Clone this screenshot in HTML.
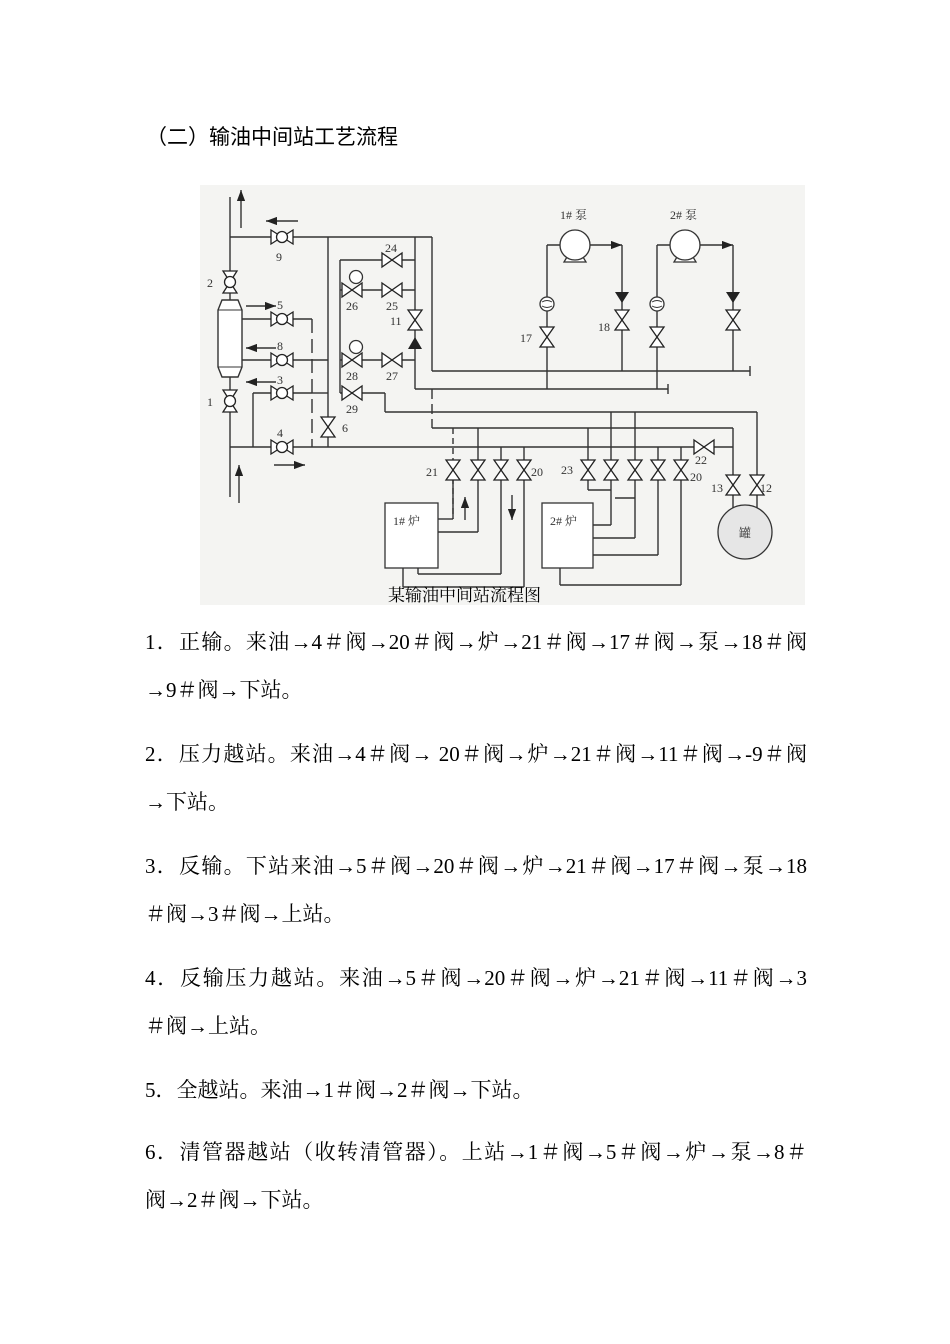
<!DOCTYPE html>
<html><head><meta charset="utf-8">
<style>
body{margin:0;background:#fff;}
#p{position:relative;width:950px;height:1344px;overflow:hidden;font-family:"Liberation Serif","Noto Serif CJK SC",serif;color:#000;}
.t{position:absolute;left:145px;font-size:21px;white-space:nowrap;line-height:24px;}
.j{width:662px;text-align:justify;text-align-last:justify;}
svg{position:absolute;left:0;top:0;}
</style></head><body><div id="p">
<div class="t" style="left:146px;top:126px;font-size:21px;font-family:'Liberation Sans','Noto Sans CJK SC',sans-serif;">（二）输油中间站工艺流程</div>

<svg width="950" height="620" viewBox="0 0 950 620">
<defs>
<g id="v"><polygon points="-10,-7 10,7 10,-7 -10,7" fill="#fff" stroke="#222" stroke-width="1.3"/></g>
<g id="b"><polygon points="-11,-7 11,7 11,-7 -11,7" fill="#fff" stroke="#222" stroke-width="1.3"/><circle r="5.5" fill="#fff" stroke="#222" stroke-width="1.3"/></g>
<g id="vv"><polygon points="-7,-10 7,10 -7,10 7,-10" fill="#fff" stroke="#222" stroke-width="1.3"/></g>
<g id="bv"><polygon points="-7,-11 7,11 -7,11 7,-11" fill="#fff" stroke="#222" stroke-width="1.3"/><circle r="5.5" fill="#fff" stroke="#222" stroke-width="1.3"/></g>
<marker id="ar" markerWidth="8" markerHeight="6" refX="8" refY="3" orient="auto"><path d="M0,0 L8,3 L0,6 z" fill="#222"/></marker>
</defs>
<rect x="200" y="185" width="605" height="420" fill="#f4f4f2"/>
<g stroke="#333" stroke-width="1.4" fill="none">
<!-- left main -->
<line x1="230" y1="197" x2="230" y2="497"/>
<line x1="230" y1="237" x2="432" y2="237"/>
<line x1="328" y1="237" x2="328" y2="447"/>
<line x1="415" y1="237" x2="415" y2="389"/>
<line x1="432" y1="237" x2="432" y2="371"/>
<line x1="432" y1="371" x2="750" y2="371"/>
<line x1="750" y1="366" x2="750" y2="376"/>
<line x1="415" y1="389" x2="668" y2="389"/>
<line x1="668" y1="384" x2="668" y2="394"/>
<!-- filter connections -->
<line x1="242" y1="319" x2="312" y2="319"/>
<line x1="312" y1="319" x2="312" y2="447" stroke-dasharray="14,6"/>
<line x1="242" y1="360" x2="328" y2="360"/>
<line x1="253" y1="393" x2="312" y2="393"/>
<line x1="253" y1="393" x2="253" y2="447"/>
<line x1="312" y1="393" x2="328" y2="393"/>
<line x1="230" y1="447" x2="733" y2="447"/>
<!-- inner loop -->
<line x1="340" y1="260" x2="340" y2="393"/>
<line x1="340" y1="260" x2="415" y2="260"/>
<line x1="340" y1="290" x2="415" y2="290"/>
<line x1="340" y1="360" x2="415" y2="360"/>
<line x1="340" y1="393" x2="385" y2="393"/>
<line x1="385" y1="393" x2="385" y2="412"/>
<line x1="385" y1="412" x2="757" y2="412"/>
<line x1="757" y1="412" x2="757" y2="512"/>
<line x1="432" y1="428" x2="733" y2="428"/>
<line x1="432" y1="389" x2="432" y2="428" stroke-dasharray="10,5"/>
<line x1="733" y1="428" x2="733" y2="512"/>
<!-- pumps -->
<line x1="547" y1="245" x2="547" y2="371"/>
<line x1="547" y1="245" x2="575" y2="245"/>
<line x1="575" y1="245" x2="622" y2="245" marker-end="url(#ar)"/>
<line x1="622" y1="245" x2="622" y2="371"/>
<line x1="657" y1="245" x2="657" y2="371"/>
<line x1="657" y1="245" x2="685" y2="245"/>
<line x1="685" y1="245" x2="733" y2="245" marker-end="url(#ar)"/>
<line x1="733" y1="245" x2="733" y2="371"/>
<line x1="547" y1="371" x2="547" y2="389"/>
<line x1="657" y1="371" x2="657" y2="389"/>
<!-- furnace valve drops -->
<line x1="453" y1="428" x2="453" y2="519" stroke-dasharray="6,4"/>
<line x1="478" y1="428" x2="478" y2="532"/>
<line x1="501" y1="447" x2="501" y2="574"/>
<line x1="524" y1="447" x2="524" y2="587"/>
<line x1="453" y1="470" x2="453" y2="519"/>
<line x1="438" y1="519" x2="453" y2="519"/>
<line x1="438" y1="532" x2="478" y2="532"/>
<line x1="418" y1="568" x2="418" y2="574"/><line x1="418" y1="574" x2="501" y2="574"/>
<line x1="403" y1="568" x2="403" y2="587"/><line x1="403" y1="587" x2="524" y2="587"/>
<line x1="588" y1="428" x2="588" y2="490"/>
<line x1="611" y1="412" x2="611" y2="525"/>
<line x1="635" y1="412" x2="635" y2="538"/>
<line x1="658" y1="447" x2="658" y2="555"/>
<line x1="681" y1="447" x2="681" y2="585"/>
<line x1="588" y1="490" x2="611" y2="490"/>
<line x1="615" y1="498" x2="635" y2="498"/>
<line x1="593" y1="525" x2="611" y2="525"/>
<line x1="593" y1="538" x2="635" y2="538"/>
<line x1="575" y1="568" x2="575" y2="555"/><line x1="575" y1="555" x2="658" y2="555"/>
<line x1="560" y1="568" x2="560" y2="585"/><line x1="560" y1="585" x2="681" y2="585"/>
<!-- arrows -->
<line x1="241" y1="228" x2="241" y2="190" marker-end="url(#ar)"/>
<line x1="239" y1="503" x2="239" y2="465" marker-end="url(#ar)"/>
<line x1="298" y1="221" x2="266" y2="221" marker-end="url(#ar)"/>
<line x1="246" y1="306" x2="276" y2="306" marker-end="url(#ar)"/>
<line x1="276" y1="348" x2="246" y2="348" marker-end="url(#ar)"/>
<line x1="276" y1="382" x2="246" y2="382" marker-end="url(#ar)"/>
<line x1="274" y1="465" x2="305" y2="465" marker-end="url(#ar)"/>
<line x1="465" y1="520" x2="465" y2="497" marker-end="url(#ar)"/>
<line x1="512" y1="495" x2="512" y2="520" marker-end="url(#ar)"/>
</g>
<!-- filter body -->
<path d="M222,300 L238,300 L242,310 L242,367 L238,377 L222,377 L218,367 L218,310 Z" fill="#fff" stroke="#333" stroke-width="1.4"/>
<line x1="218" y1="310" x2="242" y2="310" stroke="#333"/><line x1="218" y1="367" x2="242" y2="367" stroke="#333"/>
<!-- valves -->
<use href="#b" x="282" y="237"/><use href="#bv" x="230" y="282"/><use href="#bv" x="230" y="401"/>
<use href="#b" x="282" y="319"/><use href="#b" x="282" y="360"/><use href="#b" x="282" y="393"/><use href="#b" x="282" y="447"/>
<use href="#vv" x="328" y="427"/>
<use href="#v" x="392" y="260"/><use href="#v" x="392" y="290"/><use href="#v" x="392" y="360"/><use href="#v" x="352" y="393"/>
<use href="#v" x="352" y="290"/><use href="#v" x="352" y="360"/>
<circle cx="356" cy="277" r="6.5" fill="#fff" stroke="#333" stroke-width="1.3"/>
<circle cx="356" cy="347" r="6.5" fill="#fff" stroke="#333" stroke-width="1.3"/>
<use href="#vv" x="415" y="320"/>
<polygon points="408,349 422,349 415,337" fill="#222"/>
<use href="#vv" x="453" y="470"/><use href="#vv" x="478" y="470"/><use href="#vv" x="501" y="470"/><use href="#vv" x="524" y="470"/>
<use href="#vv" x="588" y="470"/><use href="#vv" x="611" y="470"/><use href="#vv" x="635" y="470"/><use href="#vv" x="658" y="470"/><use href="#vv" x="681" y="470"/>
<use href="#v" x="704" y="447"/>
<use href="#vv" x="733" y="485"/><use href="#vv" x="757" y="485"/>
<use href="#vv" x="547" y="337"/><use href="#vv" x="622" y="320"/><use href="#vv" x="657" y="337"/><use href="#vv" x="733" y="320"/>
<polygon points="615,292 629,292 622,303" fill="#222"/><polygon points="726,292 740,292 733,303" fill="#222"/>
<g fill="#fff" stroke="#333" stroke-width="1.3">
<circle cx="547" cy="304" r="7"/><circle cx="657" cy="304" r="7"/>
<polygon points="564,262 586,262 580,252 570,252"/><circle cx="575" cy="245" r="15"/>
<polygon points="674,262 696,262 690,252 680,252"/><circle cx="685" cy="245" r="15"/>
<rect x="385" y="503" width="53" height="65"/><rect x="542" y="503" width="51" height="65"/>
<circle cx="745" cy="532" r="27" fill="#e6e6e6"/>
</g>
<path d="M542,302 q5,-3 10,0 M542,306 q5,3 10,0 M652,302 q5,-3 10,0 M652,306 q5,3 10,0" stroke="#333" fill="none"/>
<g font-family="Liberation Serif,'Noto Serif CJK SC',serif" font-size="12" fill="#333">
<text x="276" y="261">9</text><text x="207" y="287">2</text><text x="207" y="406">1</text>
<text x="277" y="309">5</text><text x="277" y="350">8</text><text x="277" y="384">3</text><text x="277" y="437">4</text>
<text x="342" y="432">6</text><text x="385" y="252">24</text><text x="346" y="310">26</text><text x="386" y="310">25</text>
<text x="390" y="325">11</text><text x="346" y="380">28</text><text x="386" y="380">27</text><text x="346" y="413">29</text>
<text x="426" y="476">21</text><text x="531" y="476">20</text><text x="561" y="474">23</text><text x="690" y="481">20</text>
<text x="695" y="464">22</text><text x="711" y="492">13</text><text x="760" y="492">12</text>
<text x="520" y="342">17</text><text x="598" y="331">18</text>
<text x="560" y="219">1# 泵</text><text x="670" y="219">2# 泵</text>
<text x="393" y="525">1# 炉</text><text x="550" y="525">2# 炉</text><text x="739" y="537">罐</text>
</g>
<text x="388" y="601" font-family="Liberation Serif,'Noto Serif CJK SC',serif" font-size="17">某输油中间站流程图</text>
</svg>

<div class="t j" style="top:630px">1．正输。来油→4＃阀→20＃阀→炉→21＃阀→17＃阀→泵→18＃阀</div>
<div class="t" style="top:678px">→9＃阀→下站。</div>
<div class="t j" style="top:742px">2．压力越站。来油→4＃阀→ 20＃阀→炉→21＃阀→11＃阀→-9＃阀</div>
<div class="t" style="top:790px">→下站。</div>
<div class="t j" style="top:854px">3．反输。下站来油→5＃阀→20＃阀→炉→21＃阀→17＃阀→泵→18</div>
<div class="t" style="top:902px">＃阀→3＃阀→上站。</div>
<div class="t j" style="top:966px">4．反输压力越站。来油→5＃阀→20＃阀→炉→21＃阀→11＃阀→3</div>
<div class="t" style="top:1014px">＃阀→上站。</div>
<div class="t" style="top:1078px">5．全越站。来油→1＃阀→2＃阀→下站。</div>
<div class="t j" style="top:1140px">6．清管器越站（收转清管器）。上站→1＃阀→5＃阀→炉→泵→8＃</div>
<div class="t" style="top:1188px">阀→2＃阀→下站。</div>
</div></body></html>
